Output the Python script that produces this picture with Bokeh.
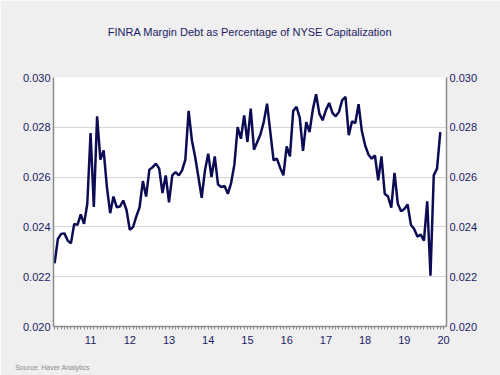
from bokeh.plotting import figure
from bokeh.models import (Range1d, LinearAxis, FixedTicker, PrintfTickFormatter,
                          ColumnDataSource)
from bokeh.embed import file_html
from bokeh.resources import INLINE

# ---- data (monthly, Aug 2010 .. Jun 2020) ----
start_year = 2010
start_month = 8
margin_ratio = [
    0.02254, 0.02352, 0.02372, 0.02374, 0.02345, 0.02334, 0.02412, 0.02408,
    0.02450, 0.02412, 0.02493, 0.02777, 0.02480, 0.02844, 0.02670, 0.02707,
    0.02560, 0.02455, 0.02522, 0.02479, 0.02482, 0.02506, 0.02468, 0.02388,
    0.02399, 0.02442, 0.02479, 0.02584, 0.02522, 0.02630, 0.02640, 0.02654,
    0.02634, 0.02536, 0.02607, 0.02499, 0.02607, 0.02620, 0.02607, 0.02627,
    0.02670, 0.02866, 0.02748, 0.02681, 0.02600, 0.02517, 0.02627, 0.02694,
    0.02600, 0.02683, 0.02570, 0.02560, 0.02564, 0.02533, 0.02576, 0.02650,
    0.02801, 0.02754, 0.02848, 0.02741, 0.02875, 0.02710, 0.02741, 0.02772,
    0.02822, 0.02895, 0.02781, 0.02667, 0.02674, 0.02638, 0.02607, 0.02723,
    0.02683, 0.02866, 0.02882, 0.02839, 0.02705, 0.02821, 0.02781, 0.02871,
    0.02933, 0.02855, 0.02828, 0.02869, 0.02898, 0.02858, 0.02844, 0.02862,
    0.02909, 0.02922, 0.02768, 0.02824, 0.02817, 0.02893, 0.02785, 0.02728,
    0.02691, 0.02674, 0.02687, 0.02587, 0.02683, 0.02533, 0.02522, 0.02477,
    0.02617, 0.02493, 0.02463, 0.02472, 0.02490, 0.02409, 0.02392, 0.02361,
    0.02369, 0.02345, 0.02503, 0.02204, 0.02607, 0.02634, 0.02781,
]
year_labels = ["11", "12", "13", "14", "15", "16", "17", "18", "19", "20"]
label_years = [2011, 2012, 2013, 2014, 2015, 2016, 2017, 2018, 2019, 2020]
y_ticks = [0.020, 0.022, 0.024, 0.026, 0.028, 0.030]
title_text = "FINRA Margin Debt as Percentage of NYSE Capitalization"
source_text = "Source:  Haver Analytics"

dates = [start_year + (start_month - 1 + i) / 12.0 for i in range(len(margin_ratio))]
src = ColumnDataSource(dict(x=dates, y=margin_ratio))

NAVY = "#1b1b66"
LINE = "#0c0c55"
BG = "#efefef"
AXIS = "#8a8a8a"
FONT = "Liberation Sans"

p = figure(width=500, height=375, output_backend="svg", toolbar_location=None,
           x_range=Range1d(2010.555, 2020.575), y_range=Range1d(0.020, 0.030),
           min_border_left=53, min_border_right=54, min_border_top=77,
           min_border_bottom=49, background_fill_color="white",
           border_fill_color=BG, outline_line_color=None)

p.line("x", "y", source=src, line_color=LINE, line_width=2.5)

# x axis: labels at mid-year, monthly minor ticks; source note as its axis label
xa = p.xaxis[0]
month_ticks = [2010 + m / 12.0 for m in range(7, 12 * 10 + 7)]
xa.ticker = FixedTicker(ticks=[y + 0.5 for y in label_years], minor_ticks=month_ticks)
xa.major_label_overrides = {y + 0.5: lab for y, lab in zip(label_years, year_labels)}
xa.major_tick_out = 0
xa.major_tick_in = 0
xa.minor_tick_out = 3
xa.minor_tick_in = 0
xa.minor_tick_line_color = AXIS
xa.axis_line_color = AXIS
xa.axis_line_width = 1.5
xa.major_label_text_font = FONT
xa.major_label_text_font_size = "11px"
xa.major_label_text_color = NAVY
xa.major_label_standoff = 6
xa.axis_label = source_text
xa.axis_label_text_font = FONT
xa.axis_label_text_font_size = "7px"
xa.axis_label_text_font_style = "normal"
xa.axis_label_text_color = "#8a8a8a"
xa.axis_label_standoff = 17
xa.axis_label_align = "start"

# y axes
def style_y(ax):
    ax.ticker = FixedTicker(ticks=y_ticks)
    ax.formatter = PrintfTickFormatter(format="%.3f")
    ax.major_tick_out = 0
    ax.major_tick_in = 0
    ax.minor_tick_out = 0
    ax.minor_tick_in = 0
    ax.axis_line_color = AXIS
    ax.axis_line_width = 1.5
    ax.major_label_text_font = FONT
    ax.major_label_text_font_size = "11px"
    ax.major_label_text_color = NAVY
    ax.major_label_standoff = 3

style_y(p.yaxis[0])
ry = LinearAxis()
style_y(ry)
p.add_layout(ry, "right")

# title carried by a tick-less axis above the frame
ta = LinearAxis(ticker=FixedTicker(ticks=[]))
ta.major_tick_out = 0
ta.major_tick_in = 0
ta.minor_tick_out = 0
ta.minor_tick_in = 0
ta.axis_line_color = None
ta.major_tick_line_color = BG
ta.minor_tick_line_color = BG
ta.axis_label = title_text
ta.axis_label_text_font = FONT
ta.axis_label_text_font_size = "11px"
ta.axis_label_text_font_style = "normal"
ta.axis_label_text_color = NAVY
ta.axis_label_standoff = 40
p.add_layout(ta, "above")

p.xgrid.grid_line_color = None
p.ygrid.ticker = FixedTicker(ticks=y_ticks)
p.ygrid.grid_line_color = "#d6d6d6"
p.ygrid.grid_line_width = 1

open("out.html", "w").write(file_html(p, INLINE))
